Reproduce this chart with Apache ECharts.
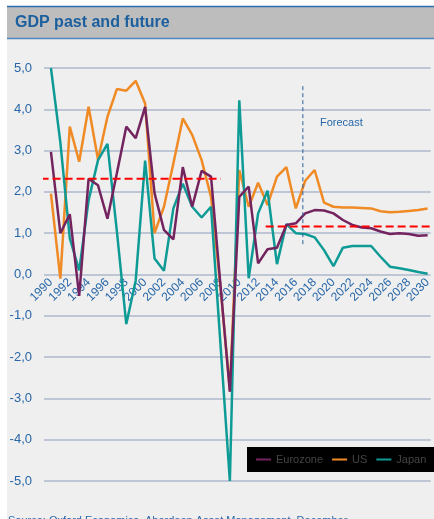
<!DOCTYPE html>
<html>
<head>
<meta charset="utf-8">
<script src="https://cdn.jsdelivr.net/npm/echarts@6/dist/echarts.min.js"></script>
<style>
  html, body { margin: 0; padding: 0; background: #fff; }
  #chart { width: 434px; height: 519px; }
</style>
</head>
<body>
<div id="chart"></div>
<script>
// years on the x axis
const years = []
for (let y = 1990; y <= 2030; y++) years.push(y)
// labelled years
const tickYears = years.filter((y) => y % 2 === 0)

const eurozone = [2.97, 1.0, 1.46, -0.52, 2.32, 2.16, 1.35, 2.45, 3.58, 3.3,
  4.06, 1.97, 1.08, 0.85, 2.6, 1.64, 2.51, 2.37, -0.25, -2.84,
  1.88, 2.13, 0.27, 0.61, 0.65, 1.2, 1.24, 1.48, 1.56, 1.55,
  1.48, 1.32, 1.2, 1.14, 1.12, 1.04, 0.98, 1.0, 0.98, 0.94, 0.95]
const us = [1.96, -0.1, 3.58, 2.73, 4.06, 2.78, 3.82, 4.49, 4.45, 4.69,
  4.14, 1.0, 1.64, 2.69, 3.78, 3.38, 2.77, 1.88, -0.3, -2.8,
  2.53, 1.64, 2.22, 1.68, 2.37, 2.6, 1.6, 2.27, 2.53, 1.74,
  1.64, 1.62, 1.62, 1.61, 1.6, 1.53, 1.51, 1.52, 1.54, 1.56, 1.6]
const japan = [5.0, 3.2, 0.88, 0.1, 1.8, 2.77, 3.16, 1.05, -1.2, -0.15,
  2.76, 0.39, 0.09, 1.6, 2.2, 1.64, 1.38, 1.64, -1.68, -5.0,
  4.22, -0.09, 1.48, 2.03, 0.25, 1.22, 1.0, 0.98, 0.9, 0.59,
  0.2, 0.65, 0.69, 0.69, 0.69, 0.43, 0.19, 0.15, 0.11, 0.06, 0.02]

// average lines (past / forecast) and the forecast divider
const pastAvg = [[1988.9, 2.32], [2008.05, 2.32]]
const futureAvg = [[2012.8, 1.16], [2030.4, 1.16]]
const forecastLine = [[2016.75, 4.56], [2016.75, 0.67]]

const pair = (arr) => years.map((y, i) => [y, arr[i]])

const chart = echarts.init(document.getElementById('chart'))

const blue = '#2767a8'
const font = 'Liberation Sans, Arial, sans-serif'

// plot area
const gridTop = 68
const gridBottom = 38
const yMin = -5
const yMax = 5
const plotH = 519 - gridTop - gridBottom
// x labels sit on the zero line, not at the bottom of the plot
const zeroOffset = -plotH * (0 - yMin) / (yMax - yMin)

const option = {
  animation: false,
  textStyle: { fontFamily: font },
  title: {
    text: 'GDP past and future',
    left: 10,
    top: 10,
    textStyle: { color: '#1b5f9e', fontSize: 16, fontWeight: 'bold', fontFamily: font },
  },
  graphic: [
    // panel background
    { type: 'rect', z: -10, shape: { x: 7, y: 6, width: 427, height: 513 }, style: { fill: '#efefef' } },
    // title bar
    { type: 'rect', z: -9, shape: { x: 7, y: 6, width: 427, height: 32 }, style: { fill: '#bdbdbd' } },
    { type: 'line', z: -8, shape: { x1: 7, y1: 6.5, x2: 434, y2: 6.5 }, style: { stroke: '#2a6db0', lineWidth: 1.5 } },
    { type: 'line', z: -8, shape: { x1: 7, y1: 38.5, x2: 434, y2: 38.5 }, style: { stroke: '#4f86c0', lineWidth: 1.5 } },
    {
      type: 'text', left: 320, top: 117,
      style: { text: 'Forecast', fill: blue, font: '11px ' + font },
    },
    {
      type: 'text', left: 8, top: 515,
      style: { text: 'Source: Oxford Economics, Aberdeen Asset Management, December', fill: blue, font: '11px ' + font },
    },
  ],
  legend: {
    data: ['Eurozone', 'US', 'Japan'],
    left: 247,
    top: 447,
    width: 300,
    backgroundColor: '#000',
    padding: [7, 11, 7, 8],
    itemWidth: 15,
    itemHeight: 2,
    itemGap: 8,
    textStyle: { color: '#444', fontSize: 11, fontFamily: font },
  },
  grid: { left: 44, right: 0, top: gridTop, bottom: gridBottom },
  xAxis: {
    type: 'value',
    min: 1990 - 7 / 9.5,
    max: 2030 + 3 / 9.5,
    offset: zeroOffset,
    axisLine: { show: false, onZero: false },
    axisTick: { show: false },
    splitLine: { show: false },
    axisLabel: {
      customValues: tickYears,
      rotate: 45,
      margin: 6,
      color: blue,
      fontSize: 12,
      formatter: (v) => String(v),
    },
  },
  yAxis: {
    type: 'value',
    min: yMin,
    max: yMax,
    interval: 1,
    axisLine: { show: false },
    axisTick: { show: false },
    splitLine: { lineStyle: { color: '#aeb8cc', width: 1.5 } },
    axisLabel: {
      margin: 12,
      color: blue,
      fontSize: 13,
      formatter: (v) => v.toFixed(1).replace('.', ','),
    },
  },
  series: [
    {
      name: 'US', type: 'line',
      data: pair(us), symbol: 'none', color: '#ef8a24',
      lineStyle: { width: 2.5 },
    },
    {
      name: 'Japan', type: 'line',
      data: pair(japan), symbol: 'none', color: '#0e9b96',
      lineStyle: { width: 2.5 },
    },
    {
      name: 'Eurozone', type: 'line',
      data: pair(eurozone), symbol: 'none', color: '#73245f',
      lineStyle: { width: 2.5 },
    },
    {
      name: 'past avg', type: 'line',
      data: pastAvg, symbol: 'none', clip: false, silent: true, z: 5,
      lineStyle: { color: '#ff0000', width: 2, type: [8, 4] },
    },
    {
      name: 'forecast avg', type: 'line',
      data: futureAvg, symbol: 'none', clip: false, silent: true, z: 5,
      lineStyle: { color: '#ff0000', width: 2, type: [8, 4] },
    },
    {
      name: 'forecast', type: 'line',
      data: forecastLine, symbol: 'none', silent: true,
      lineStyle: { color: '#2a5f9a', width: 1, type: [4, 3] },
    },
  ],
}

chart.setOption(option)
</script>
</body>
</html>
